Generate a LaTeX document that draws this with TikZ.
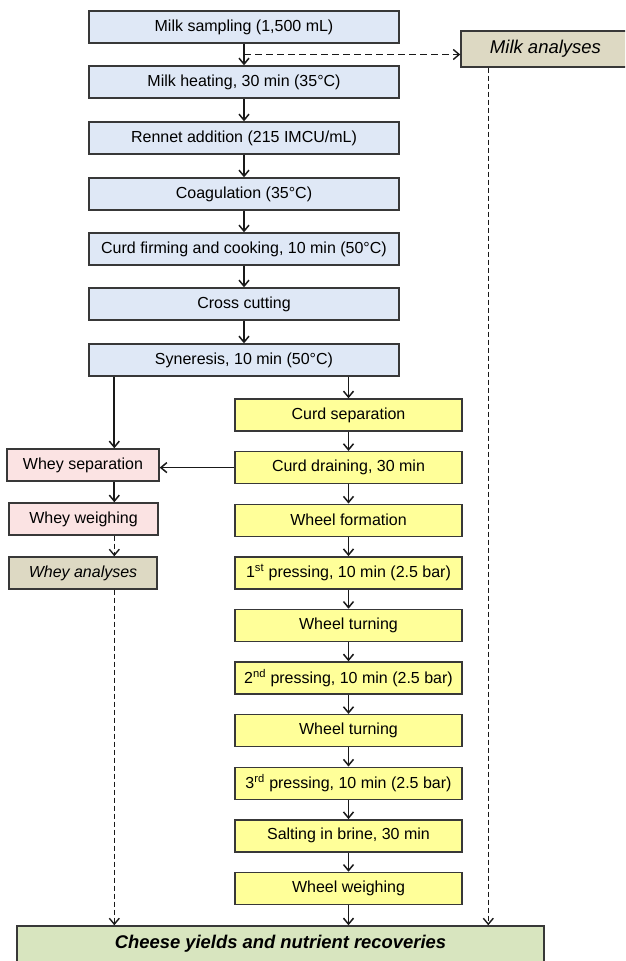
\documentclass[tikz,border=0pt]{standalone}
\usepackage{fontspec}
\setmainfont{Liberation Sans}
\usetikzlibrary{arrows.meta,calc}
\definecolor{bluef}{HTML}{DFE8F6}
\definecolor{yellowf}{HTML}{FFFF99}
\definecolor{pinkf}{HTML}{FBE3E3}
\definecolor{khakif}{HTML}{DDD9C3}
\definecolor{greenf}{HTML}{D8E5BF}
\definecolor{edge}{HTML}{383838}
\begin{document}
\begin{tikzpicture}[x=1pt,y=-1pt,
  box/.style={draw=edge, line width=1.4pt, minimum height=32pt, inner sep=0pt,
    font=\fontsize{16}{18}\selectfont, anchor=center},
  bluebox/.style={box, fill=bluef, minimum width=310pt},
  yelbox/.style={box, fill=yellowf, minimum width=227pt},
  pinkbox/.style={box, fill=pinkf},
  anbox/.style={box, fill=khakif, font=\fontsize{16}{18}\selectfont\itshape},
  arr/.style={line width=1.7pt, draw=black!90, -{Straight Barb[length=6pt,width=10pt,line width=1.5pt]}},
  darr/.style={line width=1.5pt, draw=black!90, dash pattern=on 5pt off 3pt, -{Straight Barb[length=6pt,width=10pt,line width=1.4pt]}},
  hdarr/.style={darr, dash pattern=on 7pt off 4pt}
]
\useasboundingbox (0,0) rectangle (625,961);
\clip (0,0) rectangle (625,961);

% main blue column
\node[bluebox] (s1) at (244,27) {Milk sampling (1,500 mL)};
\node[bluebox] (s2) at (244,82) {Milk heating, 30 min (35°C)};
\node[bluebox] (s3) at (244,138) {Rennet addition (215 IMCU/mL)};
\node[bluebox] (s4) at (244,194) {Coagulation (35°C)};
\node[bluebox] (s5) at (244,249) {Curd firming and cooking, 10 min (50°C)};
\node[bluebox] (s6) at (244,304) {Cross cutting};
\node[bluebox] (syn) at (244,360) {Syneresis, 10 min (50°C)};

% milk analyses
\node[anbox, minimum width=169pt, minimum height=36pt,
  font=\fontsize{18.5}{21}\selectfont\itshape] (ma) at (545.5,49) {Milk analyses};

% yellow column
\node[yelbox] (y1) at (348.5,415) {Curd separation};
\node[yelbox] (y2) at (348.5,467.6) {Curd draining, 30 min};
\node[yelbox] (y3) at (348.5,520.2) {Wheel formation};
\node[yelbox] (y4) at (348.5,572.8) {1\textsuperscript{st} pressing, 10 min (2.5 bar)};
\node[yelbox] (y5) at (348.5,625.4) {Wheel turning};
\node[yelbox] (y6) at (348.5,678) {2\textsuperscript{nd} pressing, 10 min (2.5 bar)};
\node[yelbox] (y7) at (348.5,730.6) {Wheel turning};
\node[yelbox] (y8) at (348.5,783.2) {3\textsuperscript{rd} pressing, 10 min (2.5 bar)};
\node[yelbox] (y9) at (348.5,835.8) {Salting in brine, 30 min};
\node[yelbox] (y10) at (348.5,888.4) {Wheel weighing};

% whey column
\node[pinkbox, minimum width=152pt] (ws) at (83,465) {Whey separation};
\node[pinkbox, minimum width=149pt] (ww) at (83.5,519) {Whey weighing};
\node[anbox, minimum width=148pt] (wa) at (83,573) {Whey analyses};

% final box
\node[box, fill=greenf, minimum width=527pt, minimum height=36pt,
  font=\fontsize{18.4}{21}\selectfont\bfseries\itshape] (ch) at (280.5,944)
  {Cheese yields and nutrient recoveries};

% main arrows
\draw[arr] (s1) -- (s2);
\draw[arr] (s2) -- (s3);
\draw[arr] (s3) -- (s4);
\draw[arr] (s4) -- (s5);
\draw[arr] (s5) -- (s6);
\draw[arr] (s6) -- (syn);
\coordinate (m) at ($(s1.south)!0.5!(s2.north)$);
\draw[hdarr] (m) -- (m -| ma.west);

% yellow arrows
\draw[arr] (y1.north |- syn.south) -- (y1.north);
\draw[arr] (y1) -- (y2);
\draw[arr] (y2) -- (y3);
\draw[arr] (y3) -- (y4);
\draw[arr] (y4) -- (y5);
\draw[arr] (y5) -- (y6);
\draw[arr] (y6) -- (y7);
\draw[arr] (y7) -- (y8);
\draw[arr] (y8) -- (y9);
\draw[arr] (y9) -- (y10);
\draw[arr] (y10.south) -- (y10.south |- ch.north);

% whey arrows
\draw[arr] ($(syn.south west)+(26,0)$) coordinate (b) -- (b |- ws.north);
\draw[arr] (y2.west) -- (y2.west -| ws.east);
\draw[arr] (b |- ws.south) -- (b |- ww.north);
\draw[darr] (b |- ww.south) -- (b |- wa.north);
\draw[darr] (b |- wa.south) -- (b |- ch.north);

% milk analyses to final
\draw[darr] ($(ma.south west)+(28,0)$) coordinate (c) -- (c |- ch.north);
\end{tikzpicture}
\end{document}
